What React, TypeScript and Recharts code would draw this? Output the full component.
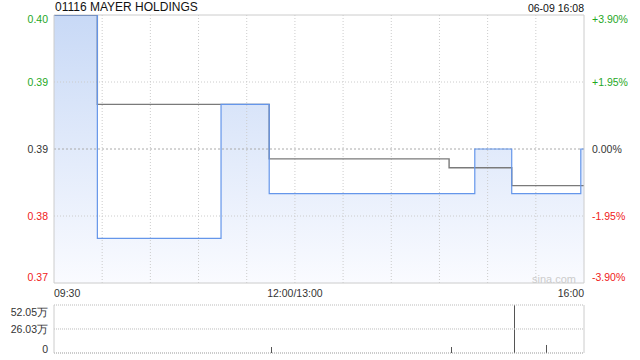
import { ComposedChart, Area, Line, Bar, XAxis, YAxis, ReferenceLine } from 'recharts'

const title = '01116 MAYER HOLDINGS'
const stamp = '06-09 16:08'
const watermark = 'sina.com'
const prevClose = 0.385

// price steps (time the price changed -> new price)
const priceTimes = ['09:30', '09:57', '11:14', '11:44', '14:52', '15:15', '15:58', '16:00']
const prices = [0.4, 0.375, 0.39, 0.38, 0.385, 0.38, 0.385, 0.385]

// average price line
const avgTimes = ['09:30', '09:57', '11:44', '14:36', '15:15', '16:00']
const avgPrices = [0.4, 0.39, 0.3839, 0.3829, 0.3809, 0.3809]

// volume, in 万 shares
const volTimes = ['11:45', '14:37', '15:16', '15:36']
const volumes = [6.5, 6.5, 52.05, 8.7]

const priceTicks = [0.37, 0.3775, 0.385, 0.3925, 0.4]
const priceTickLabels = ['0.37', '0.38', '0.39', '0.39', '0.40']
const pctTicks = [-3.9, -1.95, 0, 1.95, 3.9]
const pctTickLabels = ['-3.90%', '-1.95%', '0.00%', '+1.95%', '+3.90%']
const volTicks = [0, 26.03, 52.05]
const volTickLabels = ['0', '26.03万', '52.05万']
const timeTickLabels = ['09:30', '12:00/13:00', '16:00']

const FONT = 'Arial, "Liberation Sans", sans-serif'
const GREEN = '#1fa81f'
const RED = '#f02020'
const BLUE = '#6596ea'

// trading minutes since open, lunch break removed
function toMin(t: string): number {
  const [h, m] = t.split(':').map(Number)
  const v = h * 60 + m
  return v <= 720 ? v - 570 : v - 780 + 150
}

function holdAt(times: string[], vals: number[], t: string): number {
  let v = vals[0]
  times.forEach((tt, i) => {
    if (toMin(tt) <= toMin(t)) v = vals[i]
  })
  return v
}

const allTimes = Array.from(new Set([...priceTimes, ...avgTimes])).sort((a, b) => toMin(a) - toMin(b))
const mainData = allTimes.map(t => ({
  m: toMin(t),
  price: holdAt(priceTimes, prices, t),
  avg: holdAt(avgTimes, avgPrices, t),
}))
const volData = volTimes.map((t, i) => ({ m: toMin(t), vol: volumes[i] }))

const timeTicks = [0, 150, 330]
const gridMins: number[] = []
for (let i = 30; i < 330; i += 30) gridMins.push(i)

function colorFor(i: number, mid: number) {
  return i > mid ? GREEN : i < mid ? RED : '#333'
}

function edgeShift(i: number, n: number) {
  if (i === 0) return -6
  if (i === n - 1) return 4
  return 0
}

const PriceTick = (props: any) => {
  const { x, y, payload } = props
  const i = priceTicks.indexOf(payload.value)
  return (
    <text x={x} y={y + edgeShift(i, priceTicks.length)} dy="0.35em" textAnchor="end"
      fontSize={10.5} fontFamily={FONT} fill={colorFor(i, 2)}>
      {priceTickLabels[i]}
    </text>
  )
}

const PctTick = (props: any) => {
  const { x, y, payload } = props
  const i = pctTicks.indexOf(payload.value)
  return (
    <text x={x} y={y + edgeShift(i, pctTicks.length)} dy="0.35em" textAnchor="start"
      fontSize={10.5} fontFamily={FONT} fill={colorFor(i, 2)}>
      {pctTickLabels[i]}
    </text>
  )
}

const TimeTick = (props: any) => {
  const { x, y, payload } = props
  const i = timeTicks.indexOf(payload.value)
  const anchor = i === 0 ? 'start' : i === timeTicks.length - 1 ? 'end' : 'middle'
  return (
    <text x={x} y={y + 8} dy="0.35em" textAnchor={anchor} fontSize={10.5} fontFamily={FONT} fill="#333">
      {timeTickLabels[i]}
    </text>
  )
}

const VolTick = (props: any) => {
  const { x, y, payload } = props
  const i = volTicks.indexOf(payload.value)
  const shift = i === 0 ? -4 : i === volTicks.length - 1 ? 7 : 0
  return (
    <text x={x} y={y + shift} dy="0.35em" textAnchor="end" fontSize={10.5} fontFamily={FONT} fill="#333">
      {volTickLabels[i]}
    </text>
  )
}

const VolBar = (props: any) => {
  const { x, y, width, height } = props
  if (!height) return null
  return <rect x={Math.round(x + width / 2)} y={y} width={1} height={height} fill="#555" />
}

export default function App() {
  return (
    <div style={{ position: 'absolute', left: 0, top: 0, width: 640, height: 360, background: '#fff', fontFamily: FONT }}>
      <div style={{ position: 'absolute', left: 55, top: 0, fontSize: 12, lineHeight: '14px', color: '#111' }}>{title}</div>
      <div style={{ position: 'absolute', right: 56, top: 1, fontSize: 10.5, lineHeight: '14px', color: '#111' }}>{stamp}</div>

      <div style={{ position: 'absolute', left: 0, top: 0 }}>
        <ComposedChart width={640} height={300} data={mainData} margin={{ top: 15, right: 0, left: 0, bottom: 0 }}>
          <defs>
            <linearGradient id="pxFill" x1="0" y1="0" x2="0" y2="1">
              <stop offset="0%" stopColor="#c8d9f6" />
              <stop offset="100%" stopColor="#fafbff" />
            </linearGradient>
          </defs>
          <XAxis dataKey="m" type="number" domain={[0, 330]} ticks={timeTicks} tick={<TimeTick />}
            tickLine={false} tickSize={0} height={17} axisLine={{ stroke: '#ccc' }} interval={0} />
          <YAxis yAxisId="p" orientation="left" domain={[0.37, 0.4]} ticks={priceTicks} tick={<PriceTick />}
            tickLine={false} tickSize={4} width={54} axisLine={{ stroke: '#ccc' }} interval={0} allowDataOverflow />
          <YAxis yAxisId="pct" orientation="right" domain={[-3.9, 3.9]} ticks={pctTicks} tick={<PctTick />}
            tickLine={false} tickSize={6} width={56} axisLine={{ stroke: '#ccc' }} interval={0} allowDataOverflow />

          <Area yAxisId="p" dataKey="price" type="stepAfter" stroke="none" fill="url(#pxFill)" fillOpacity={1}
            baseValue={0.37} isAnimationActive={false} />

          {gridMins.map(m => (
            <ReferenceLine key={m} yAxisId="p" x={m} stroke="#ccc" strokeDasharray="1 2" />
          ))}
          <ReferenceLine yAxisId="p" y={priceTicks[1]} stroke="#ccc" strokeDasharray="1 2" />
          <ReferenceLine yAxisId="p" y={priceTicks[3]} stroke="#ccc" strokeDasharray="1 2" />
          <ReferenceLine yAxisId="p" y={prevClose} stroke="#aaa" strokeDasharray="2 2" />
          <ReferenceLine yAxisId="p" y={0.4} stroke="#ccc" />

          <Line yAxisId="p" dataKey="avg" type="stepAfter" stroke="#7a7a7a" strokeWidth={1.4} dot={false}
            isAnimationActive={false} />
          <Line yAxisId="p" dataKey="price" type="stepAfter" stroke={BLUE} strokeWidth={1.2} dot={false}
            isAnimationActive={false} />
        </ComposedChart>
      </div>

      <div style={{ position: 'absolute', left: 532, top: 273, fontSize: 11, color: '#ccc' }}>{watermark}</div>

      <div style={{ position: 'absolute', left: 0, top: 300 }}>
        <ComposedChart width={640} height={60} data={volData} margin={{ top: 5, right: 0, left: 0, bottom: 7 }}>
          <XAxis dataKey="m" type="number" domain={[0, 330]} hide />
          <YAxis yAxisId="v" orientation="left" domain={[0, 52.05]} ticks={volTicks} tick={<VolTick />}
            tickLine={false} tickSize={4} width={54} axisLine={{ stroke: '#ccc' }} interval={0} />
          <YAxis yAxisId="r" orientation="right" domain={[0, 52.05]} tick={false}
            tickLine={false} width={56} axisLine={{ stroke: '#ccc' }} />
          <ReferenceLine yAxisId="v" y={volTicks[2]} stroke="#bbb" strokeDasharray="1 1" />
          <ReferenceLine yAxisId="v" y={volTicks[1]} stroke="#bbb" strokeDasharray="1 1" />
          <ReferenceLine yAxisId="v" y={volTicks[0]} stroke="#999" strokeDasharray="1 1" />
          <Bar yAxisId="v" dataKey="vol" barSize={1} shape={<VolBar />} isAnimationActive={false} />
        </ComposedChart>
      </div>
    </div>
  )
}
